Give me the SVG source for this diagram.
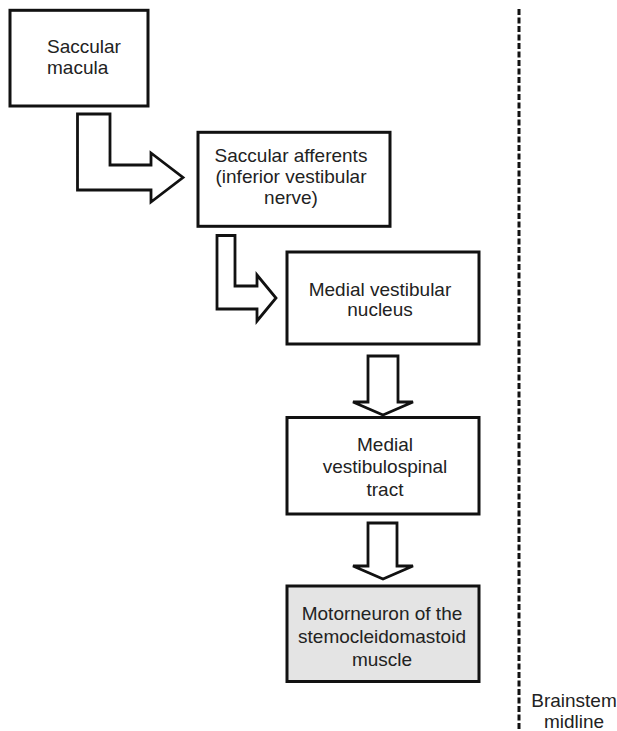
<svg xmlns="http://www.w3.org/2000/svg" width="617" height="731" viewBox="0 0 617 731">
<style>
.box{fill:#ffffff;stroke:#111;stroke-width:3}
.grey{fill:#e4e4e4}
.arr{fill:#ffffff;stroke:#111;stroke-width:2.8;stroke-linejoin:miter}
text{font-family:"Liberation Sans",Arial,sans-serif;font-size:19px;fill:#222}
.c{text-anchor:middle}
.mid{fill:none;stroke:#111;stroke-width:3;stroke-dasharray:6 2.5}
</style>
<rect width="617" height="731" fill="#ffffff"/>
<g id="midline">
<line class="mid" x1="519" y1="9" x2="519" y2="731"/>
<text class="c" x="574" y="707">Brainstem</text>
<text class="c" x="574" y="728">midline</text>
</g>
<g id="connectors">
<path class="arr" d="M77.5,114 L110,114 L110,165 L151,165 L151,153 L183,177.5 L151,202 L151,190 L77.5,190 Z"/>
<path class="arr" d="M217,235.5 L235,235.5 L235,286 L257,286 L257,275 L276,298 L257,321 L257,309 L217,309 Z"/>
<path class="arr" d="M368,356 L398,356 L398,402 L413,402 L383,415 L353,402 L368,402 Z"/>
<path class="arr" d="M368,523 L397,523 L397,566 L413,566 L383,579 L353,566 L368,566 Z"/>
</g>
<g id="saccular-macula">
<rect class="box" x="10" y="10.3" width="138" height="95.7"/>
<text x="47" y="53">Saccular</text>
<text x="47" y="74">macula</text>
</g>
<g id="saccular-afferents">
<rect class="box" x="198" y="132.3" width="192" height="94"/>
<text class="c" x="291" y="162">Saccular afferents</text>
<text class="c" x="291" y="183">(inferior vestibular</text>
<text class="c" x="291" y="204">nerve)</text>
</g>
<g id="medial-vestibular-nucleus">
<rect class="box" x="287" y="252" width="192" height="92"/>
<text class="c" x="380" y="296">Medial vestibular</text>
<text class="c" x="380" y="316">nucleus</text>
</g>
<g id="medial-vestibulospinal-tract">
<rect class="box" x="287" y="417.5" width="192" height="96.5"/>
<text class="c" x="385" y="451">Medial</text>
<text class="c" x="385" y="473">vestibulospinal</text>
<text class="c" x="385" y="496">tract</text>
</g>
<g id="motorneuron">
<rect class="box grey" x="287" y="586" width="192" height="95.5"/>
<text class="c" x="382" y="620">Motorneuron of the</text>
<text class="c" x="382" y="643">stemocleidomastoid</text>
<text class="c" x="382" y="666">muscle</text>
</g>
</svg>
